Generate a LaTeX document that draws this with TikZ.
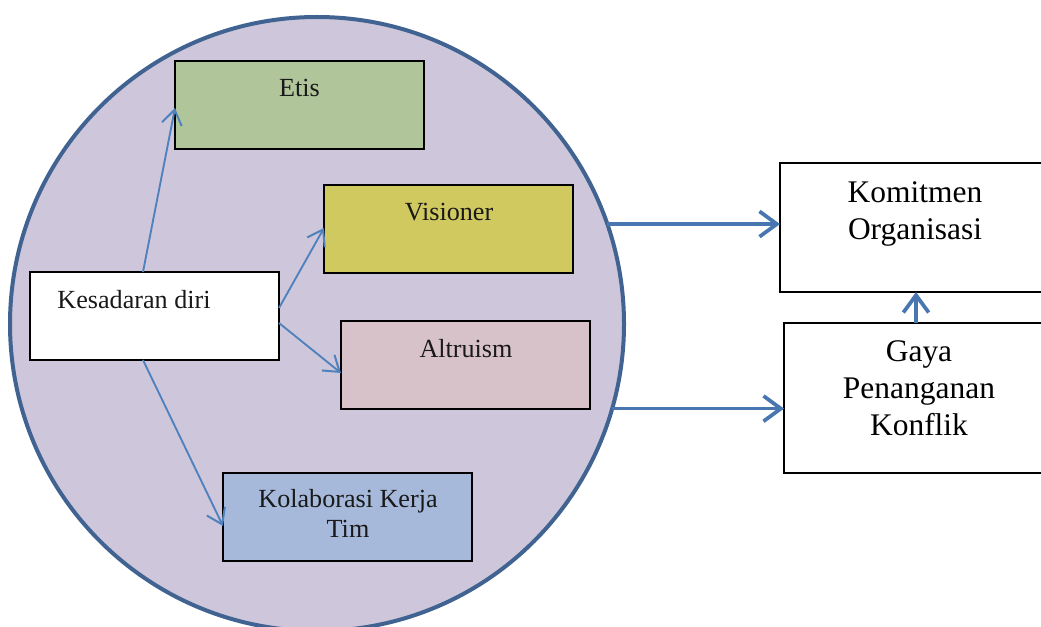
\documentclass[tikz,border=0pt]{standalone}
\usepackage{fontspec}
\setmainfont{Liberation Serif}
\usetikzlibrary{arrows.meta,calc}

\definecolor{ringfill}{RGB}{206,198,219}
\definecolor{ringline}{RGB}{64,99,145}
\definecolor{etisfill}{RGB}{176,198,154}
\definecolor{visfill}{RGB}{207,201,96}
\definecolor{altfill}{RGB}{216,194,201}
\definecolor{kolfill}{RGB}{166,185,219}
\definecolor{linkblue}{RGB}{79,129,189}
\definecolor{flowblue}{RGB}{72,118,176}

\begin{document}
\begin{tikzpicture}[x=0.75pt,y=-0.75pt,
  box/.style={draw=black,line width=1.1pt,rectangle,anchor=north west,
    inner sep=0pt,outer sep=0pt,minimum width=186.75pt,minimum height=66pt},
  lbl/.style={anchor=base,align=center,inner sep=0pt,
    font=\fontsize{19.6}{22.5}\selectfont,text=black!90},
  big/.style={anchor=base,align=center,inner sep=0pt,
    font=\fontsize{23.6}{27.5}\selectfont,text=black},
  link/.style={draw=linkblue,line width=1.4pt,
    -{Straight Barb[length=11pt,width=15pt,line width=1.5pt]}},
  flow/.style={draw=flowblue,line width=2.8pt,
    -{Straight Barb[length=13pt,width=19pt,line width=2.8pt]}}]

\useasboundingbox (0,0) rectangle (1041,627);
\clip (0,0) rectangle (1041,627);
\fill[white] (0,0) rectangle (1041,627);

% the enclosing circle of the leadership traits
\node[circle,draw=ringline,fill=ringfill,line width=3pt,
  minimum size=460.5pt,inner sep=0pt,outer sep=0pt] (ring) at (317,324) {};

% boxes inside the circle
\node[box,fill=etisfill] (etis) at (175,61) {};
\node[box,fill=visfill]  (vis)  at (324,185) {};
\node[box,fill=white]    (kes)  at (30,272) {};
\node[box,fill=altfill]  (alt)  at (341,321) {};
\node[box,fill=kolfill]  (kol)  at (223,473) {};

% outcome boxes on the right
\node[box,minimum width=210pt,minimum height=96.75pt] (kom) at (780,163) {};
\node[box,minimum width=207pt,minimum height=112.5pt] (gaya) at (784,323) {};

% labels (multi-line nodes sit on the baseline of their last line)
\node[lbl] (etis-t) at (299.5,97) {Etis};
\node[lbl] (vis-t)  at (449,220) {Visioner};
\node[lbl] (kes-t)  at (134,308) {Kesadaran diri};
\node[lbl] (alt-t)  at (466,357) {Altruism};
\node[lbl] (kol-t)  at (348,537) {Kolaborasi Kerja\\Tim};
\node[big] (kom-t)  at (915,239) {Komitmen\\Organisasi};
\node[big] (gaya-t) at (919,435) {Gaya\\Penanganan\\Konflik};

% links from self-awareness
\draw[link] ($(kes.north west)+(113,0)$) -- ($(etis.north west)+(0,47)$);
\draw[link] ($(kes.north east)+(0,36)$)  -- ($(vis.north west)+(0,43)$);
\draw[link] ($(kes.north east)+(0,51)$)  -- ($(alt.north west)+(0,52)$);
\draw[link] ($(kes.south west)+(113,0)$) -- ($(kol.north west)+(0,53)$);

% flows to the outcomes
\draw[flow] (ring.19.3)  -- (ring.19.3 -| kom.west);
\draw[flow] (ring.-16.9) -- (ring.-16.9 -| gaya.west);
\coordinate (kx) at (916,0);
\draw[flow] (gaya.north -| kx) -- (kom.south -| kx);
\end{tikzpicture}
\end{document}
